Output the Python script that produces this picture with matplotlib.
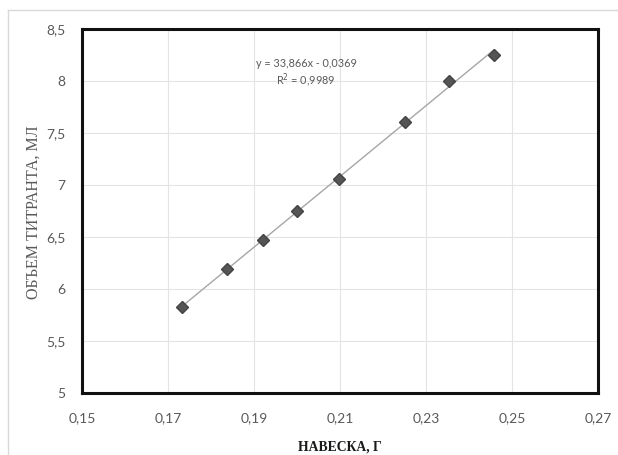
import numpy as np
import matplotlib.pyplot as plt
from matplotlib.lines import Line2D
from matplotlib.ticker import FuncFormatter

# sample mass, g
mass = [0.1733, 0.1838, 0.1920, 0.2001, 0.2098, 0.2252, 0.2353, 0.2458]
# titrant volume, ml
volume = [5.83, 6.19, 6.47, 6.75, 7.06, 7.61, 8.00, 8.25]

x_ticks = [0.15, 0.17, 0.19, 0.21, 0.23, 0.25, 0.27]
y_ticks = [5, 5.5, 6, 6.5, 7, 7.5, 8, 8.5]

W, H = 618, 455
fig = plt.figure(figsize=(W / 100, H / 100), dpi=100)
ax = fig.add_axes([82 / W, 1 - 393 / H, (598 - 82) / W, (393 - 29) / H])

# trendline
slope, intercept = np.polyfit(mass, volume, 1)
fit_x = np.array([min(mass), max(mass)])
ax.plot(fit_x, slope * fit_x + intercept, color='#a6a6a6', lw=1.0, zorder=2)

ax.plot(mass, volume, linestyle='none', marker='D', markersize=6.5,
        color='#555555', markeredgecolor='#444444', zorder=3)

ax.set_xlim(0.15, 0.27)
ax.set_ylim(5, 8.5)
ax.set_xticks(x_ticks)
ax.set_yticks(y_ticks)


def comma_fmt(v, _):
    s = f"{v:.2f}".rstrip('0').rstrip('.')
    return s.replace('.', ',')


ax.xaxis.set_major_formatter(FuncFormatter(comma_fmt))
ax.yaxis.set_major_formatter(FuncFormatter(comma_fmt))
ax.grid(True, color='#e4e4e4', lw=0.8)
ax.set_axisbelow(True)
ax.tick_params(length=0, labelsize=10, labelcolor='#595959')
ax.tick_params(axis='x', pad=14)
ax.tick_params(axis='y', pad=12)
for tick in ax.get_xticklabels() + ax.get_yticklabels():
    tick.set_family('Lato')
for sp in ax.spines.values():
    sp.set_linewidth(2.2)
    sp.set_color('#111111')

ax.text(0.2021, 8.07, 'y = 33,866x - 0,0369\nR$^2$ = 0,9989',
        ha='center', va='center', fontsize=7.8, color='#595959',
        family='Lato', linespacing=1.2)

fig.text(34 / W, 1 - 212 / H, 'ОБЪЕМ ТИТРАНТА, МЛ', rotation=90,
         ha='center', va='center', fontsize=11.5, color='#595959',
         family='Liberation Serif')
fig.text(340 / W, 1 - 447 / H, 'НАВЕСКА, Г', ha='center', va='center',
         fontsize=9.8, color='#1a1a1a', family='Liberation Serif',
         fontweight='bold')

# outer chart frame
fig.add_artist(Line2D([8 / W, 1], [1 - 10 / H, 1 - 10 / H],
                      transform=fig.transFigure, color='#d9d9d9', lw=1))
fig.add_artist(Line2D([8 / W, 8 / W], [0, 1 - 10 / H],
                      transform=fig.transFigure, color='#d9d9d9', lw=1))

fig.savefig('out.png', dpi=100)
